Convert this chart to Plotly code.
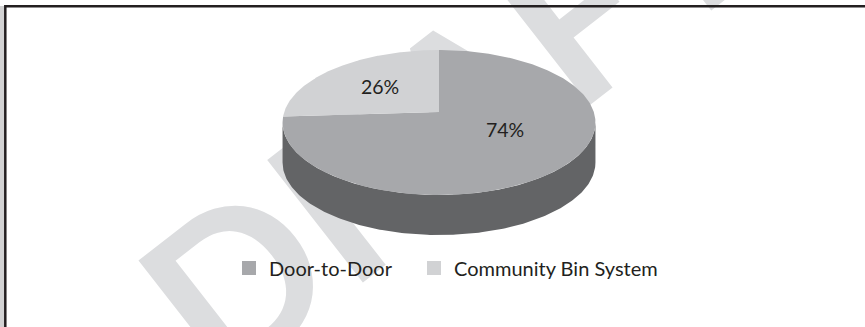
import numpy as np
import plotly.graph_objects as go

# ---- data ----
categories = ["Door-to-Door", "Community Bin System"]
values = [74, 26]
label_texts = ["74%", "26%"]

# ---- style ----
top_colors = ["#a7a8ab", "#d1d2d4"]
side_colors = ["#636466", "#9c9d9f"]
text_color = "#231f20"
FONT = "Lato"

W, H = 865, 327
CX, CY = 439.0, 112.0      # projected pie centre (px)
RX, RY = 154.8, 71.0       # radii before perspective
PB = 0.145                 # perspective strength
DEPTH = 40                 # thickness of the pie (px)
LABEL_R = 0.55
label_yshift = [11, 0]


def proj(u, v):
    d = 1 - PB * v
    return CX + RX * u / d, CY + RY * v / d


def pt(psi, r=1.0):
    # psi: clockwise angle from 12 o'clock
    return proj(r * np.sin(psi), -r * np.cos(psi))


fig = go.Figure()

total = float(sum(values))
fr = np.array(values, dtype=float) / total
ends = np.cumsum(fr) * 2 * np.pi
starts = ends - fr * 2 * np.pi

# visible front side range (clockwise angle)
th_r = np.arcsin(PB)
side_lo = th_r + np.pi / 2
side_hi = np.pi - th_r + np.pi / 2

# sides
for i in range(len(values)):
    a0, a1 = max(starts[i], side_lo), min(ends[i], side_hi)
    if a1 <= a0:
        continue
    ps = np.linspace(a0, a1, 200)
    xs, ys = pt(ps)
    xb, yb = xs[::-1], ys[::-1] + DEPTH
    fig.add_trace(go.Scatter(
        x=np.concatenate([xs, xb]), y=np.concatenate([ys, yb]),
        fill="toself", fillcolor=side_colors[i], mode="lines",
        line=dict(width=0, color=side_colors[i]), hoverinfo="skip", showlegend=False))

# top faces
for i in range(len(values)):
    ps = np.linspace(starts[i], ends[i], 300)
    xs, ys = pt(ps)
    fig.add_trace(go.Scatter(
        x=np.concatenate([[CX], xs, [CX]]), y=np.concatenate([[CY], ys, [CY]]),
        fill="toself", fillcolor=top_colors[i], mode="lines",
        line=dict(width=0, color=top_colors[i]), hoverinfo="skip", showlegend=False))

# labels
for i in range(len(values)):
    mid = (starts[i] + ends[i]) / 2
    lx, ly = pt(mid, LABEL_R)
    fig.add_annotation(x=lx, y=ly, text=label_texts[i], showarrow=False,
                       yshift=label_yshift[i],
                       font=dict(family=FONT, size=19.5, color=text_color))

# legend entries
legend_names = ["legend", "legend2"]
for i in range(len(values)):
    fig.add_trace(go.Scatter(
        x=[None], y=[None], mode="markers", name=categories[i],
        marker=dict(symbol="square", size=14, color=top_colors[i]),
        legend=legend_names[i], showlegend=True))

leg_common = dict(orientation="h", yanchor="middle", y=1 - 268 / H,
                  xanchor="left", bgcolor="rgba(0,0,0,0)", borderwidth=0,
                  font=dict(family=FONT, size=20, color=text_color))
fig.update_layout(
    legend=dict(x=(249 - 20) / W, **leg_common),
    legend2=dict(x=(434 - 20) / W, **leg_common),
)

# watermark
fig.add_shape(type="rect", xref="x", yref="y", x0=394, x1=494, y0=80, y1=140,
              line=dict(width=0), fillcolor="rgba(0,0,0,0)", layer="below",
              label=dict(text="<b>DRAFT</b>", textangle=-38, textposition="middle center",
                         font=dict(family=FONT, size=215, color="#dcdddf")))

# frame
fig.add_shape(type="rect", xref="paper", yref="paper", x0=0, x1=4 / W, y0=0, y1=1 - 6 / H,
              line=dict(width=0), fillcolor="#d2d2d3", layer="above")
fig.add_shape(type="rect", xref="paper", yref="paper", x0=5.3 / W, x1=1.1,
              y0=-0.1, y1=1 - 6.2 / H,
              line=dict(width=2.5, color=text_color), fillcolor="rgba(0,0,0,0)", layer="above")

fig.update_layout(
    width=W, height=H, margin=dict(l=0, r=0, t=0, b=0),
    paper_bgcolor="white", plot_bgcolor="white",
    xaxis=dict(range=[0, W], visible=False, fixedrange=True),
    yaxis=dict(range=[H, 0], visible=False, fixedrange=True),
)

fig.write_html("out.html")
